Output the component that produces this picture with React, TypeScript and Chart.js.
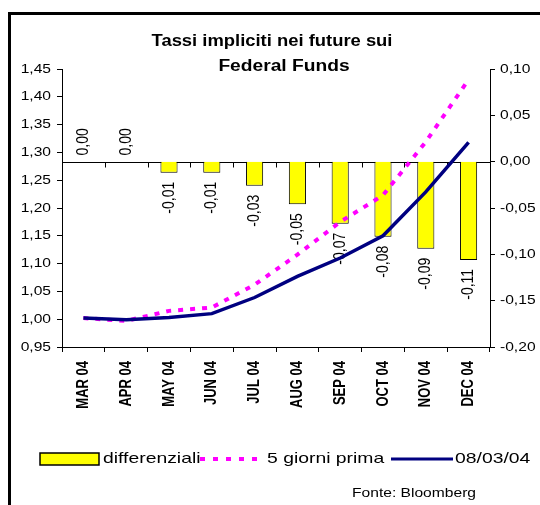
import React, { useEffect, useRef } from "react";
import { Chart, registerables } from "chart.js";

Chart.register(...registerables);

const categories = ["MAR 04", "APR 04", "MAY 04", "JUN 04", "JUL 04", "AUG 04", "SEP 04", "OCT 04", "NOV 04", "DEC 04"];
const differenziali = [0, 0, -0.012, -0.012, -0.026, -0.046, -0.067, -0.081, -0.094, -0.106];
const cinqueGiorniPrima = [1.002, 0.997, 1.015, 1.021, 1.062, 1.116, 1.175, 1.223, 1.319, 1.431];
const serie080304 = [1.002, 0.999, 1.003, 1.010, 1.039, 1.077, 1.110, 1.150, 1.229, 1.318];
const titleLines = ["Tassi impliciti nei future sui", "Federal Funds"];
const legendLabels = ["differenziali", "5 giorni prima", "08/03/04"];
const sourceNote = "Fonte: Bloomberg";

const FAMILY = "'Liberation Sans', Arial, sans-serif";
const SX = 1.18;

const fmt = (v: number) => v.toFixed(2).replace(".", ",").replace("-0,00", "0,00");

function hText(ctx: CanvasRenderingContext2D, text: string, x: number, y: number, font: string, align: CanvasTextAlign, sx = SX) {
  ctx.save();
  ctx.font = font;
  ctx.fillStyle = "#000";
  ctx.translate(x, y);
  ctx.scale(sx, 1);
  ctx.textAlign = align;
  ctx.textBaseline = "middle";
  ctx.fillText(text, 0, 0);
  ctx.restore();
}

function vText(ctx: CanvasRenderingContext2D, text: string, x: number, y: number, font: string, align: CanvasTextAlign, sx = SX) {
  ctx.save();
  ctx.font = font;
  ctx.fillStyle = "#000";
  ctx.translate(x, y);
  ctx.rotate(-Math.PI / 2);
  ctx.scale(1, sx);
  ctx.textAlign = align;
  ctx.textBaseline = "middle";
  ctx.fillText(text, 0, 0);
  ctx.restore();
}

const customPlugin = {
  id: "custom",
  beforeDatasetsDraw(chart: any) {
    const ctx = chart.ctx as CanvasRenderingContext2D;
    const { left, right } = chart.chartArea;
    const y2 = chart.scales.y2;
    const x = chart.scales.x;
    const y0 = Math.round(y2.getPixelForValue(0)) + 0.5;
    ctx.save();
    ctx.strokeStyle = "#000";
    ctx.lineWidth = 1;
    ctx.beginPath();
    ctx.moveTo(left, y0);
    ctx.lineTo(right, y0);
    const n = categories.length;
    const w = (right - left) / n;
    for (let i = 0; i <= n; i++) {
      const tx = Math.round(left + i * w) + 0.5;
      ctx.moveTo(tx, y0);
      ctx.lineTo(tx, y0 + 5);
    }
    ctx.stroke();
    ctx.restore();

    const meta = chart.getDatasetMeta(0);
    meta.data.forEach((bar: any, i: number) => {
      const v = differenziali[i];
      const cx = x.getPixelForValue(i);
      const label = fmt(v);
      if (v >= 0) {
        vText(ctx, label, cx, y0 - 7, `14px ${FAMILY}`, "left");
      } else {
        vText(ctx, label, cx, bar.y + 9, `14px ${FAMILY}`, "right");
      }
    });
  },
  afterDraw(chart: any) {
    const ctx = chart.ctx as CanvasRenderingContext2D;
    const { left, right, bottom } = chart.chartArea;
    const yL = chart.scales.y;
    const yR = chart.scales.y2;
    const x = chart.scales.x;

    hText(ctx, titleLines[0], 272, 42, `bold 16px ${FAMILY}`, "center", 1.15);
    hText(ctx, titleLines[1], 284, 67, `bold 16px ${FAMILY}`, "center", 1.2);

    yL.ticks.forEach((t: any) => {
      hText(ctx, fmt(t.value), left - 11, yL.getPixelForValue(t.value), `13px ${FAMILY}`, "right", 1.2);
    });
    yR.ticks.forEach((t: any) => {
      hText(ctx, fmt(t.value), right + 10, yR.getPixelForValue(t.value), `13px ${FAMILY}`, "left", 1.2);
    });

    categories.forEach((c, i) => {
      vText(ctx, c, x.getPixelForValue(i), bottom + 14, `bold 13px ${FAMILY}`, "right", 1.3);
    });

    const ly = 459;
    ctx.save();
    ctx.fillStyle = "#FFFF00";
    ctx.fillRect(40, 453, 59, 12);
    ctx.strokeStyle = "#000";
    ctx.lineWidth = 1.5;
    ctx.strokeRect(40, 453, 59, 12);
    ctx.restore();
    hText(ctx, legendLabels[0], 103, ly, `15px ${FAMILY}`, "left", 1.29);
    ctx.save();
    ctx.strokeStyle = "#FF00FF";
    ctx.lineWidth = 4;
    ctx.setLineDash([5, 8]);
    ctx.beginPath();
    ctx.moveTo(200, ly);
    ctx.lineTo(264, ly);
    ctx.stroke();
    ctx.restore();
    hText(ctx, legendLabels[1], 267, ly, `15px ${FAMILY}`, "left", 1.29);
    ctx.save();
    ctx.strokeStyle = "#000080";
    ctx.lineWidth = 3;
    ctx.beginPath();
    ctx.moveTo(391, ly);
    ctx.lineTo(453, ly);
    ctx.stroke();
    ctx.restore();
    hText(ctx, legendLabels[2], 455, ly, `15px ${FAMILY}`, "left", 1.29);

    hText(ctx, sourceNote, 352, 493, `13px ${FAMILY}`, "left", 1.2);

    ctx.save();
    ctx.fillStyle = "#000";
    ctx.fillRect(8, 12, 3, 505);
    ctx.fillRect(8, 12, 540, 3);
    ctx.restore();
  },
};

export default function App() {
  const ref = useRef<HTMLCanvasElement>(null);
  useEffect(() => {
    const canvas = ref.current as HTMLCanvasElement;
    const chart = new Chart(canvas, {
      type: "bar",
      data: {
        labels: categories,
        datasets: [
          {
            type: "bar",
            label: legendLabels[0],
            data: differenziali,
            yAxisID: "y2",
            backgroundColor: "#FFFF00",
            borderColor: "#000",
            borderWidth: 1,
            barPercentage: 0.4,
            categoryPercentage: 1,
            order: 3,
          } as any,
          {
            type: "line",
            label: legendLabels[1],
            data: cinqueGiorniPrima,
            yAxisID: "y",
            borderColor: "#FF00FF",
            borderWidth: 4,
            borderDash: [5, 7],
            pointRadius: 0,
            tension: 0,
            fill: false,
            order: 2,
          } as any,
          {
            type: "line",
            label: legendLabels[2],
            data: serie080304,
            yAxisID: "y",
            borderColor: "#000080",
            borderWidth: 3.5,
            pointRadius: 0,
            tension: 0,
            fill: false,
            order: 1,
          } as any,
        ],
      },
      options: {
        responsive: false,
        animation: false,
        devicePixelRatio: 1,
        layout: { padding: { top: 69, left: 0, right: 0, bottom: 0 } },
        plugins: {
          legend: { display: false },
          title: { display: false },
          tooltip: { enabled: false },
        },
        scales: {
          x: {
            type: "category",
            offset: true,
            grid: { offset: true, drawOnChartArea: false, drawTicks: true, tickLength: 5, color: "#000", tickColor: "#000" },
            border: { display: true, color: "#000", width: 1 },
            ticks: { display: false, autoSkip: false },
            afterFit: (s: any) => { s.height = 158; },
          },
          y: {
            type: "linear",
            position: "left",
            min: 0.95,
            max: 1.45,
            ticks: { display: false, stepSize: 0.05 },
            grid: { drawOnChartArea: false, drawTicks: true, tickLength: 5, color: "#000", tickColor: "#000" },
            border: { display: true, color: "#000", width: 1 },
            afterFit: (s: any) => { s.width = 62; },
          },
          y2: {
            type: "linear",
            position: "right",
            min: -0.2,
            max: 0.1,
            ticks: { display: false, stepSize: 0.05 },
            grid: { drawOnChartArea: false, drawTicks: true, tickLength: 5, color: "#000", tickColor: "#000" },
            border: { display: true, color: "#000", width: 1 },
            afterFit: (s: any) => { s.width = 50; },
          },
        },
      } as any,
      plugins: [customPlugin],
    });
    return () => chart.destroy();
  }, []);
  return (
    <div style={{ position: "fixed", left: 0, top: 0, width: 540, height: 505, background: "#fff" }}>
      <canvas ref={ref} width={540} height={505} style={{ display: "block" }} />
    </div>
  );
}
